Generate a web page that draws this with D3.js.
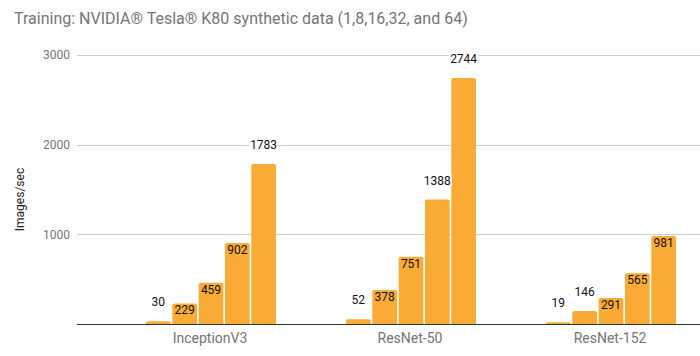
<!DOCTYPE html>
<html>
<head>
<meta charset="utf-8">
<script src="https://cdn.jsdelivr.net/npm/d3@7"></script>
<style>
  html, body { margin: 0; padding: 0; background: #fff; }
  svg { display: block; font-family: Roboto, "Noto Sans", sans-serif; }
</style>
</head>
<body>
<svg id="chart" width="700" height="356"></svg>
<script>
const title = "Training: NVIDIA® Tesla® K80 synthetic data (1,8,16,32, and 64)";
const categories = ["InceptionV3", "ResNet-50", "ResNet-152"];
const series = ["1", "8", "16", "32", "64"];
const values = [
  [30, 229, 459, 902, 1783],
  [52, 378, 751, 1388, 2744],
  [19, 146, 291, 565, 981]
];
const yTicks = [1000, 2000, 3000];
const yTitle = "Images/sec";

const svg = d3.select("#chart");
const W = 700, H = 356;
const plotLeft = 77, plotRight = 700, plotTop = 55, plotBottom = 324;

const y = d3.scaleLinear().domain([0, 3000]).range([plotBottom, plotTop]);
const x0 = d3.scaleBand().domain(categories).range([110, 710]);
const x1 = d3.scaleBand().domain(series).range([36, 166]).paddingInner(0.06);

// title
svg.append("text")
  .attr("x", 14).attr("y", 24)
  .attr("font-size", 16).attr("fill", "#757575")
  .text(title);

// grid lines
const grid = svg.append("g");
grid.selectAll("line").data(yTicks).join("line")
  .attr("x1", plotLeft).attr("x2", plotRight)
  .attr("y1", d => Math.round(y(d)) + 0.5).attr("y2", d => Math.round(y(d)) + 0.5)
  .attr("stroke", "#cccccc").attr("stroke-width", 1);

// y axis labels
const yAxis = d3.axisLeft(y).tickValues(yTicks).tickSize(0).tickPadding(7).tickFormat(d3.format("d"));
const yg = svg.append("g").attr("transform", `translate(${plotLeft},0)`).call(yAxis);
yg.select(".domain").remove();
yg.selectAll("text").attr("font-size", 12).attr("fill", "#757575").attr("font-family", "Roboto, sans-serif");

// y title
svg.append("text")
  .attr("transform", `translate(24,${(plotTop + plotBottom) / 2 + 10}) rotate(-90)`)
  .attr("text-anchor", "middle")
  .attr("font-size", 12).attr("fill", "#222")
  .text(yTitle);

// bars
const groups = svg.append("g").selectAll("g").data(categories).join("g")
  .attr("transform", d => `translate(${x0(d)},0)`);

const bw = x1.bandwidth();
groups.each(function(cat, ci) {
  const g = d3.select(this);
  const data = values[ci].map((v, si) => ({ v, s: series[si] }));
  g.selectAll("path").data(data).join("path")
    .attr("fill", "#f9ab36")
    .attr("d", d => {
      const x = x1(d.s), yt = y(d.v), h = plotBottom - yt, r = Math.min(2, h);
      return `M${x},${plotBottom}V${yt + r}Q${x},${yt} ${x + r},${yt}H${x + bw - r}Q${x + bw},${yt} ${x + bw},${yt + r}V${plotBottom}Z`;
    });
});

// x axis baseline
svg.append("line")
  .attr("x1", plotLeft).attr("x2", plotRight)
  .attr("y1", plotBottom + 0.5).attr("y2", plotBottom + 0.5)
  .attr("stroke", "#333").attr("stroke-width", 1);

// value labels
const labelLayer = svg.append("g");
groups.each(function(cat, ci) {
  values[ci].forEach((v, si) => {
    const cx = x0(cat) + x1(series[si]) + bw / 2;
    const yt = y(v);
    const t = labelLayer.append("text")
      .attr("x", cx).attr("text-anchor", "middle")
      .attr("font-size", 12).attr("fill", "#111")
      .text(d3.format("d")(v));
    const tw = t.node().getComputedTextLength();
    const barH = plotBottom - yt;
    if (tw + 2 <= bw && barH >= 16) {
      t.attr("y", yt + 11);
    } else {
      t.attr("y", yt - 15);
      labelLayer.insert("rect", () => t.node())
        .attr("x", cx - tw / 2 - 1).attr("y", yt - 25)
        .attr("width", tw + 2).attr("height", 12)
        .attr("fill", "#fff");
    }
  });
});

// category labels
const xAxis = d3.axisBottom(x0).tickSize(0).tickPadding(0);
const xg = svg.append("g").attr("transform", `translate(0,${plotBottom})`).call(xAxis);
xg.select(".domain").remove();
xg.selectAll("text").attr("font-size", 14).attr("fill", "#757575")
  .attr("font-family", "Roboto, sans-serif").attr("dy", null).attr("y", 19);
</script>
</body>
</html>
